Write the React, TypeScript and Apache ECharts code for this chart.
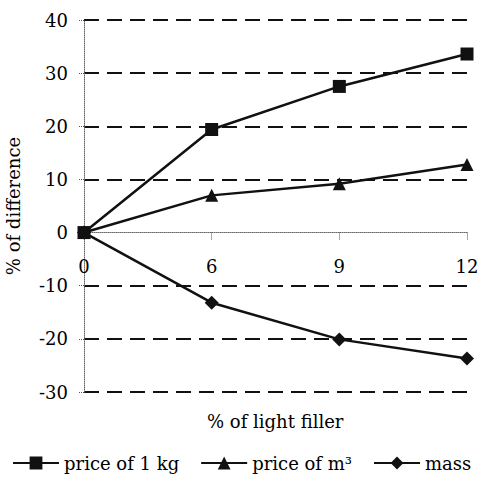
import React, { useEffect, useRef } from "react";
import * as echarts from "echarts";

const categories = ["0", "6", "9", "12"];
const pricePerKg = [0, 19.4, 27.5, 33.6];
const pricePerM3 = [0, 7.0, 9.2, 12.8];
const mass = [0, -13.2, -20.1, -23.7];
const seriesNames = ["price of 1 kg", "price of m³", "mass"];
const xTitle = "% of light filler";
const yTitle = "% of difference";
const yMin = -30;
const yMax = 40;

const FONT = "DejaVu Serif";

export default function App() {
  const ref = useRef<HTMLDivElement>(null);
  useEffect(() => {
    const chart = echarts.init(ref.current!, null, { renderer: "svg" });
    const dark = "#111";
    const gridTop = 20;
    const gridBottom = 90;
    const gridH = 482 - gridTop - gridBottom;
    const zeroOffset = -(gridH * (0 - yMin)) / (yMax - yMin);
    const lineCommon = {
      type: "line" as const,
      lineStyle: { color: dark, width: 2.5 },
      itemStyle: { color: dark },
      showSymbol: true,
    };
    chart.setOption({
      animation: false,
      backgroundColor: "#fff",
      grid: { left: 84, right: 11, top: gridTop, bottom: gridBottom, outerBoundsMode: "none", containLabel: false },
      legend: {
        left: 12,
        top: 454,
        width: 470,
        padding: 0,
        itemWidth: 46,
        itemHeight: 16,
        itemGap: 21,
        textStyle: { fontFamily: FONT, fontSize: 18, color: "#000" },
        data: seriesNames,
      },
      graphic: [
        {
          type: "text",
          left: 207,
          top: 412,
          style: { text: xTitle, font: `18px '${FONT}'`, fill: "#000" },
        },
      ],
      xAxis: {
        type: "category",
        data: categories,
        boundaryGap: false,
        offset: zeroOffset,
        axisLine: { onZero: false, lineStyle: { color: "#666", type: "dotted", width: 1 } },
        axisTick: { show: true, length: 8, lineStyle: { color: "#555", type: "dotted" } },
        axisLabel: { margin: 25, fontFamily: FONT, fontSize: 18, color: "#000" },
        splitLine: { show: false },
      },
      yAxis: {
        type: "value",
        min: yMin,
        max: yMax,
        interval: 10,
        axisLine: { show: true, lineStyle: { color: "#666", type: "dotted", width: 1 } },
        axisTick: { show: true, length: 5, lineStyle: { color: "#555", type: "dotted" } },
        axisLabel: {
          margin: 16,
          fontFamily: FONT,
          fontSize: 18,
          color: "#000",
          formatter: (v: number) => (v < 0 ? "-" + Math.abs(v) : String(v)),
        },
        splitLine: {
          show: true,
          lineStyle: {
            color: [dark, dark, dark, "rgba(0,0,0,0)", dark, dark, dark, dark],
            type: [15, 8],
            width: 2,
          },
        },
        name: yTitle,
        nameLocation: "middle",
        nameGap: 62,
        nameTextStyle: { fontFamily: FONT, fontSize: 18, color: "#000" },
      },
      series: [
        { ...lineCommon, name: seriesNames[0], data: pricePerKg, symbol: "rect", symbolSize: 13 },
        { ...lineCommon, name: seriesNames[1], data: pricePerM3, symbol: "triangle", symbolSize: 13 },
        { ...lineCommon, name: seriesNames[2], data: mass, symbol: "diamond", symbolSize: 14 },
      ],
    });
    return () => chart.dispose();
  }, []);
  return <div ref={ref} style={{ width: 478, height: 482, position: "absolute", left: 0, top: 0 }} />;
}
